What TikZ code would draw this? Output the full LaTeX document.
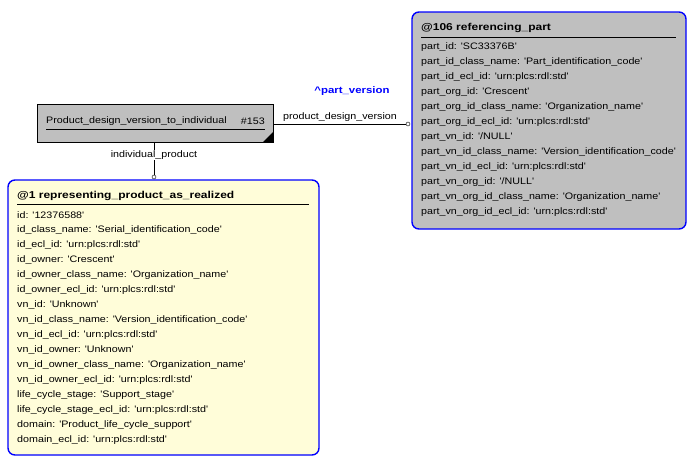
\documentclass[tikz,border=0pt]{standalone}
\usepackage{fontspec}
\setmainfont{Liberation Sans}
\newfontfamily\wide[FakeStretch=1.14]{Liberation Sans}
\newfontfamily\wideb[FakeStretch=1.2]{Liberation Sans}
\begin{document}
\begin{tikzpicture}[x=1pt,y=-1pt,
  attr/.style={anchor=west,inner sep=0pt,font=\wide\fontsize{9.4}{10}\selectfont},
  ttl/.style={anchor=west,inner sep=0pt,font=\wideb\bfseries\fontsize{10}{11}\selectfont},
  ent/.style={draw=blue,line width=1.4pt,rounded corners=7pt},
  lbl/.style={inner sep=1pt,font=\wide\fontsize{9.4}{10}\selectfont},
  endc/.style={circle,draw,fill=white,inner sep=0pt,minimum size=4pt}]
\useasboundingbox (0,0) rectangle (696,464);
% right entity
\draw[ent,fill=black!25] (412,12) rectangle (686,229);
\node[ttl] (rt) at (421,28) {@106 referencing\_part};
\draw (421,37) -- (676,37);
\foreach \t [count=\i from 0] in {part\_id: 'SC33376B',part\_id\_class\_name: 'Part\_identification\_code',part\_id\_ecl\_id: 'urn:plcs:rdl:std',part\_org\_id: 'Crescent',part\_org\_id\_class\_name: 'Organization\_name',part\_org\_id\_ecl\_id: 'urn:plcs:rdl:std',part\_vn\_id: '/NULL',part\_vn\_id\_class\_name: 'Version\_identification\_code',part\_vn\_id\_ecl\_id: 'urn:plcs:rdl:std',part\_vn\_org\_id: '/NULL',part\_vn\_org\_id\_class\_name: 'Organization\_name',part\_vn\_org\_id\_ecl\_id: 'urn:plcs:rdl:std'}
  \node[attr] (r\i) at (421,47+15*\i) {\t};
% bottom entity
\draw[ent,fill=yellow!15] (8,180) rectangle (319,455);
\node[ttl] (bt) at (17,196) {@1 representing\_product\_as\_realized};
\draw (17,204) -- (309,204);
\foreach \t [count=\i from 0] in {id: '12376588',id\_class\_name: 'Serial\_identification\_code',id\_ecl\_id: 'urn:plcs:rdl:std',id\_owner: 'Crescent',id\_owner\_class\_name: 'Organization\_name',id\_owner\_ecl\_id: 'urn:plcs:rdl:std',vn\_id: 'Unknown',vn\_id\_class\_name: 'Version\_identification\_code',vn\_id\_ecl\_id: 'urn:plcs:rdl:std',vn\_id\_owner: 'Unknown',vn\_id\_owner\_class\_name: 'Organization\_name',vn\_id\_owner\_ecl\_id: 'urn:plcs:rdl:std',life\_cycle\_stage: 'Support\_stage',life\_cycle\_stage\_ecl\_id: 'urn:plcs:rdl:std',domain: 'Product\_life\_cycle\_support',domain\_ecl\_id: 'urn:plcs:rdl:std'}
  \node[attr] (b\i) at (17,215+15*\i) {\t};
% relation box
\draw[fill=black!25] (37,104) rectangle (273,142);
\fill (273,142) -- (263,142) -- (273,132) -- cycle;
\node[attr] (pt) at (46,121) {Product\_design\_version\_to\_individual};
\node[attr,anchor=east] (pn) at (265,121) {\#153};
\draw (46,129) -- (265,129);
% connectors
\coordinate (a1) at (273,124);
\node[endc] (c1) at (408,124) {};
\draw (a1) -- (c1);
\node[lbl,fill=white] (l1) at (340,117) {product\_design\_version};
\coordinate (a2) at (154,142);
\node[endc] (c2) at (154,177) {};
\draw (a2) -- (c2);
\node[lbl,fill=white] (l2) at (154,155) {individual\_product};
\node[inner sep=0pt,text=blue,font=\wideb\bfseries\fontsize{9.5}{10}\selectfont] (pv) at (352,91) {\^{}part\_version};
\end{tikzpicture}
\end{document}
